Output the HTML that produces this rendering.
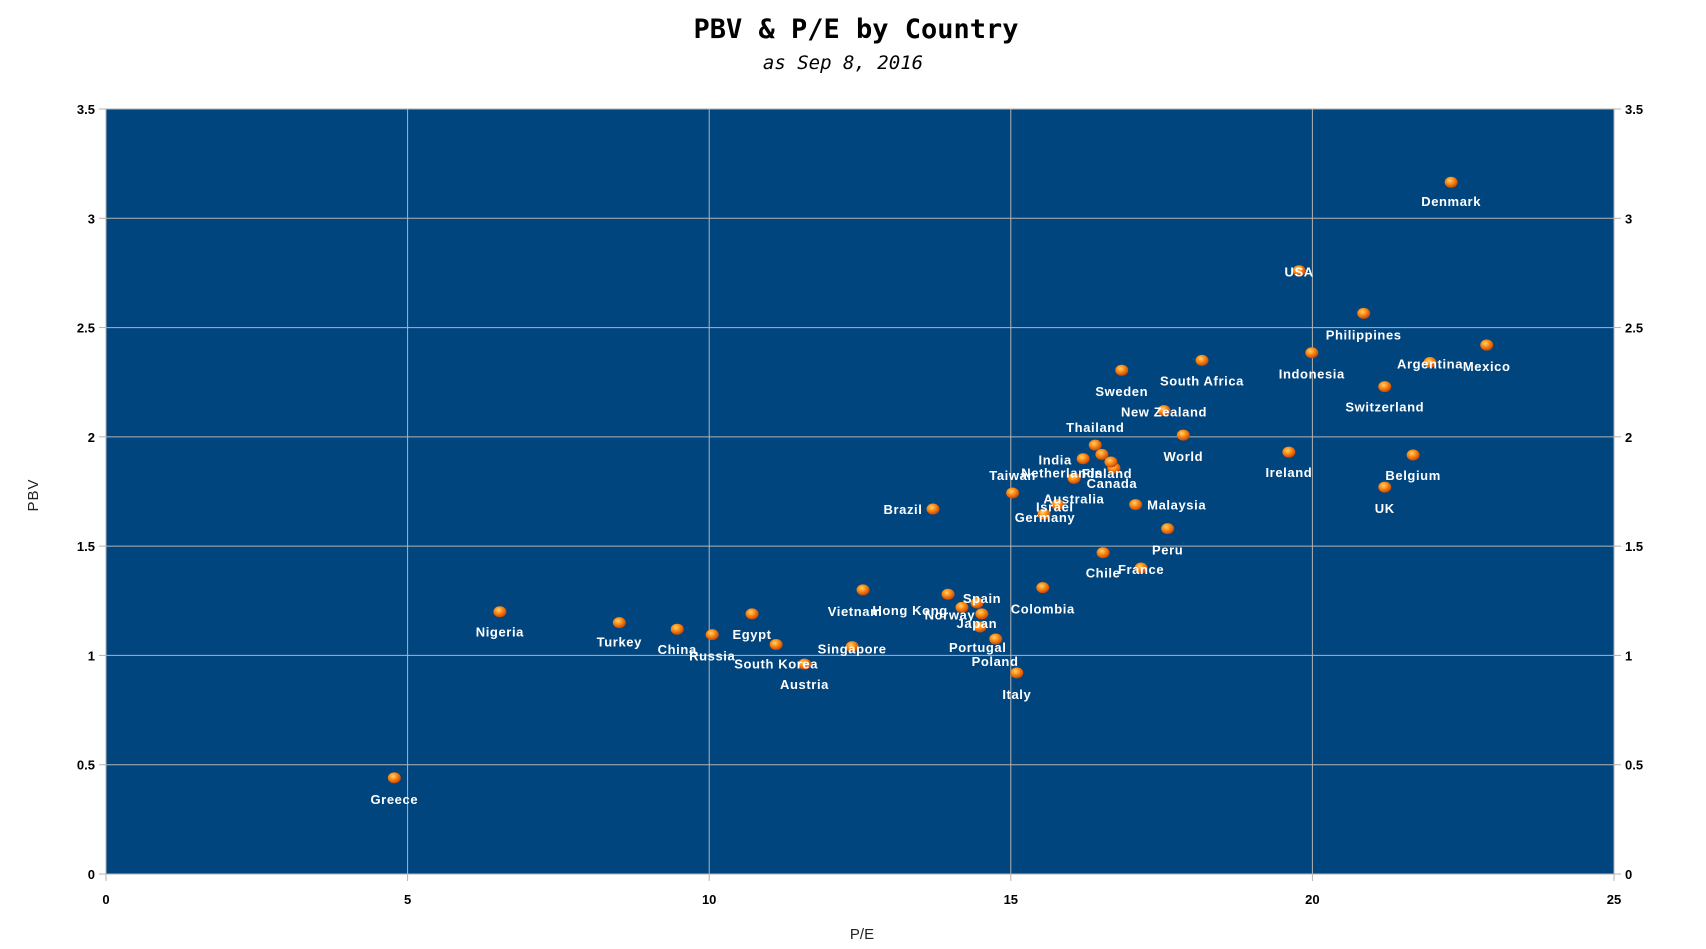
<!DOCTYPE html>
<html><head><meta charset="utf-8"><style>
html,body{margin:0;padding:0;background:#fff;}
svg{display:block;}
.tick{font-family:"Liberation Sans",sans-serif;font-size:13px;font-weight:bold;fill:#000;}
.lbl{font-family:"Liberation Sans",sans-serif;font-size:13px;font-weight:bold;fill:#fff;letter-spacing:0.6px;}
</style></head><body>
<svg id="chart" width="1706" height="949" xmlns="http://www.w3.org/2000/svg">
<defs>
<radialGradient id="ball" cx="40%" cy="35%" r="70%">
<stop offset="0" stop-color="#ffd27a"/><stop offset="0.35" stop-color="#ff9a1e"/><stop offset="1" stop-color="#c83a00"/>
</radialGradient>
</defs>
<text x="856" y="38" text-anchor="middle" font-family="'DejaVu Sans Mono','Liberation Mono',monospace" font-weight="bold" font-size="27">PBV &amp; P/E by Country</text>
<text x="843" y="69" text-anchor="middle" font-family="'DejaVu Sans Mono','Liberation Mono',monospace" font-style="italic" font-size="19">as Sep 8, 2016</text>
<rect x="106" y="109" width="1508" height="765" fill="#01457f" stroke="#b3b3b3" stroke-width="1"/>
<g id="grid"></g>
<g id="axes"></g>
<g id="points"></g>
<g id="labels"></g>
<text x="862" y="939" text-anchor="middle" font-family="'Liberation Sans',sans-serif" font-size="15" fill="#222">P/E</text>
<text transform="translate(38,495) rotate(-90)" text-anchor="middle" font-family="'Liberation Sans',sans-serif" font-size="15" fill="#222" letter-spacing="1">PBV</text>
</svg>
<script>
const countries = ["Greece","Nigeria","Turkey","China","Russia","Egypt","South Korea","Austria","Singapore","Vietnam","Hong Kong","Norway","Spain","Japan","Portugal","Poland","Italy","Colombia","Brazil","Taiwan","Germany","Israel","Australia","Netherlands","India","Thailand","Finland","Canada","Chile","France","Peru","Malaysia","Sweden","New Zealand","World","South Africa","Ireland","USA","Indonesia","Philippines","Switzerland","UK","Belgium","Argentina","Mexico","Denmark"];
const peValues = [4.78,6.53,8.51,9.47,10.05,10.71,11.11,11.58,12.37,12.55,13.96,14.19,14.44,14.52,14.75,14.49,15.10,15.53,13.71,15.03,15.55,15.78,16.51,16.05,16.20,16.40,16.71,16.66,16.53,17.16,17.60,17.07,16.84,17.54,17.86,18.17,19.61,19.78,19.99,20.85,21.20,21.20,21.67,21.95,22.89,22.30];
const pbvValues = [0.44,1.20,1.15,1.12,1.095,1.19,1.05,0.96,1.04,1.30,1.28,1.22,1.24,1.19,1.075,1.13,0.92,1.31,1.67,1.743,1.646,1.69,1.92,1.81,1.90,1.962,1.857,1.885,1.47,1.40,1.58,1.69,2.305,2.12,2.008,2.35,1.93,2.76,2.385,2.565,2.23,1.77,1.917,2.34,2.42,3.165];
const labelDx = [0,0,0,0,0,0,0,0,0,-8,-38,-12,5,-5,-18,15,0,0,-30,0,1,-3,-28,-12,-28,0,-7,1,0,0,0,41,0,0,0,0,0,0,0,0,0,0,0,0,0,0];
const labelDy = [21,20,19,20,21,20,19,20,2,21,16,7,-5,9,8,34,21,21,0,-18,3,2,44,-6,1,-18,5,21,20,1,21,0,21,1,21,20,20,1,21,21,20,21,20,1,21,19];
const xTicks = [0,5,10,15,20,25];
const yTicks = [0,0.5,1,1.5,2,2.5,3,3.5];
const yTickLabels = ["0","0.5","1","1.5","2","2.5","3","3.5"];

const L=106,R=1614,T=109,B=874,XMAX=25,YMAX=3.5;
const sx=v=>L+v*(R-L)/XMAX;
const sy=v=>B-v*(B-T)/YMAX;
const NS="http://www.w3.org/2000/svg";
function mk(tag,attrs,parent){const e=document.createElementNS(NS,tag);for(const k in attrs)e.setAttribute(k,attrs[k]);parent.appendChild(e);return e;}
const grid=document.getElementById('grid'),axes=document.getElementById('axes'),pts=document.getElementById('points'),lbls=document.getElementById('labels');
xTicks.forEach(t=>{
  const x=sx(t);
  if(t>0&&t<XMAX){const g=mk('line',{x1:x,x2:x,y1:T,y2:B,stroke:'#b3b3b3','stroke-width':1},grid);
  
  }
  const tk=mk('line',{x1:x,x2:x,y1:B,y2:B+7,stroke:'#b3b3b3'},axes);
  
  
  const tx=mk('text',{x:x,y:B+30,'text-anchor':'middle',class:'tick'},axes);
  tx.textContent=String(t);
  
  
});
yTicks.forEach((t,i)=>{
  const y=sy(t);
  if(t>0&&t<YMAX){const g=mk('line',{x1:L,x2:R,y1:y,y2:y,stroke:'#b3b3b3','stroke-width':1},grid);
  
  }
  const a=mk('line',{x1:L-7,x2:L,y1:y,y2:y,stroke:'#b3b3b3'},axes);
  
  
  const b=mk('line',{x1:R,x2:R+7,y1:y,y2:y,stroke:'#b3b3b3'},axes);
  
  
  const t1=mk('text',{x:L-11,y:y+5,'text-anchor':'end',class:'tick'},axes);
  t1.textContent=yTickLabels[i];
  
  
  const t2=mk('text',{x:R+11,y:y+5,'text-anchor':'start',class:'tick'},axes);
  t2.textContent=yTickLabels[i];
  
  
});
countries.forEach((c,i)=>{
  const x=sx(peValues[i]),y=sy(pbvValues[i]);
  const e=mk('ellipse',{cx:x,cy:y,rx:6.5,ry:5.5,fill:'url(#ball)'},pts);
  
  
});
countries.forEach((c,i)=>{
  const x=sx(peValues[i]),y=sy(pbvValues[i]);
  const t=mk('text',{x:x+labelDx[i],y:y+labelDy[i]+5,'text-anchor':'middle',class:'lbl'},lbls);
  t.textContent=c;
  
  
});
</script>
</body></html>
